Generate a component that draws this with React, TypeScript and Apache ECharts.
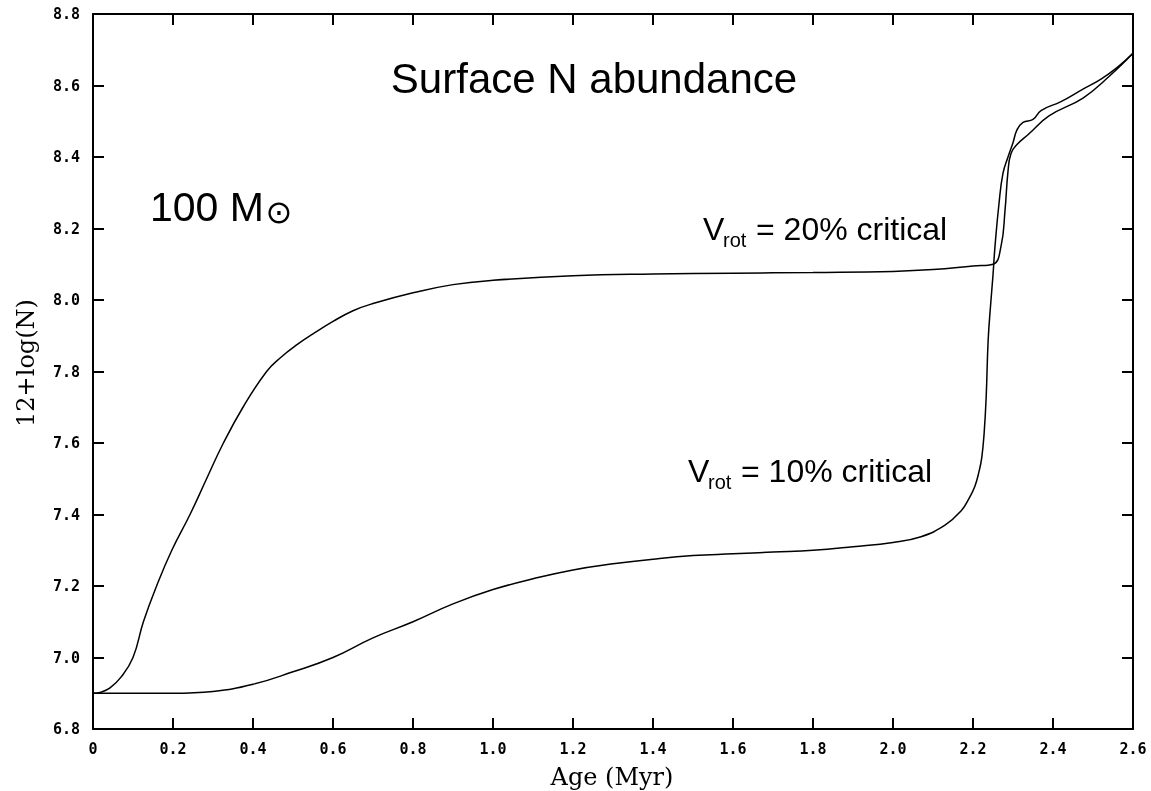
import React, { useEffect, useRef } from "react";
import * as echarts from "echarts";

// Age (Myr) and 12+log(N) for Vrot = 20% critical
const age20 = [0, 0.02, 0.0425, 0.07, 0.1, 0.126, 0.159, 0.197, 0.2425, 0.284, 0.326, 0.375, 0.434, 0.47, 0.51, 0.55, 0.6, 0.65, 0.7, 0.8, 0.9, 1.0, 1.2, 1.4, 1.6, 1.8, 2.0, 2.1, 2.2, 2.25, 2.27, 2.28, 2.2875, 2.295, 2.31, 2.34, 2.39, 2.475, 2.54, 2.6];
const n20 = [6.9, 6.903, 6.915, 6.945, 7.0, 7.1, 7.2, 7.3, 7.4, 7.5, 7.6, 7.7, 7.8, 7.84, 7.875, 7.905, 7.94, 7.97, 7.99, 8.02, 8.043, 8.055, 8.068, 8.073, 8.075, 8.077, 8.08, 8.085, 8.095, 8.1, 8.15, 8.25, 8.36, 8.41, 8.435, 8.465, 8.515, 8.565, 8.625, 8.69];

// Age (Myr) and 12+log(N) for Vrot = 10% critical
const age10 = [0, 0.1, 0.2, 0.3, 0.4, 0.5, 0.6, 0.7, 0.8, 0.9, 1.0, 1.1, 1.2, 1.3, 1.4, 1.5, 1.6, 1.7, 1.8, 1.9, 2.0, 2.07, 2.13, 2.17, 2.19, 2.205, 2.215, 2.222, 2.228, 2.233, 2.238, 2.245, 2.25, 2.255, 2.265, 2.275, 2.2875, 2.3, 2.31, 2.325, 2.35, 2.37, 2.42, 2.475, 2.52, 2.56, 2.6];
const n10 = [6.9, 6.9, 6.9, 6.905, 6.925, 6.96, 7.0, 7.055, 7.1, 7.15, 7.19, 7.22, 7.245, 7.262, 7.275, 7.285, 7.29, 7.295, 7.3, 7.31, 7.322, 7.338, 7.37, 7.41, 7.445, 7.48, 7.52, 7.56, 7.63, 7.73, 7.89, 8.0, 8.07, 8.15, 8.27, 8.355, 8.4, 8.44, 8.476, 8.497, 8.505, 8.53, 8.555, 8.59, 8.618, 8.65, 8.69];

const xMin = 0, xMax = 2.6, xStep = 0.2;
const yMin = 6.8, yMax = 8.8, yStep = 0.2;
const xTicks = [0, 0.2, 0.4, 0.6, 0.8, 1.0, 1.2, 1.4, 1.6, 1.8, 2.0, 2.2, 2.4, 2.6];
const yTicks = [6.8, 7.0, 7.2, 7.4, 7.6, 7.8, 8.0, 8.2, 8.4, 8.6, 8.8];

const xTitle = "Age (Myr)";
const yTitle = "12+log(N)";
const title = "Surface N abundance";
const massLabel = "100 M";
const sunSymbol = "\u2299";
const label20 = "= 20% critical";
const label10 = "= 10% critical";

const zip = (a: number[], b: number[]) => a.map((v, i) => [v, b[i]]);

const W = 1151, H = 791;
const GRID = { left: 93, right: 18, top: 14, bottom: 62 };
const TICK = 11;

export default function App() {
  const ref = useRef<HTMLDivElement>(null);
  useEffect(() => {
    if (!ref.current) return;
    const chart = echarts.init(ref.current, undefined, { renderer: "svg" });
    const labelStyle = { fontFamily: "DejaVu Sans Mono", fontSize: 15, fontWeight: "bold", color: "#000" };
    const sans = "Liberation Sans, Arial, sans-serif";
    const frameAxis = () => ({
      axisLine: { show: true, onZero: false, lineStyle: { color: "#000", width: 2 } },
      axisTick: { show: true, inside: true, length: TICK, lineStyle: { color: "#000", width: 2 } },
      splitLine: { show: false },
    });

    // tick length expressed in data units of each axis
    const dx = ((xMax - xMin) * TICK) / (W - GRID.left - GRID.right);
    const dy = ((yMax - yMin) * TICK) / (H - GRID.top - GRID.bottom);
    const tickSegments: any[] = [];
    xTicks.forEach((v) => {
      tickSegments.push([{ coord: [v, yMin] }, { coord: [v, yMin + dy] }]);
      tickSegments.push([{ coord: [v, yMax] }, { coord: [v, yMax - dy] }]);
    });
    yTicks.forEach((v) => {
      tickSegments.push([{ coord: [xMin, v] }, { coord: [xMin + dx, v] }]);
      tickSegments.push([{ coord: [xMax, v] }, { coord: [xMax - dx, v] }]);
    });

    chart.setOption({
      animation: false,
      grid: { ...GRID },
      xAxis: [
        {
          type: "value", min: xMin, max: xMax, interval: xStep, position: "bottom", ...frameAxis(),
          axisLabel: { ...labelStyle, margin: 12, formatter: (v: number) => (v === 0 ? "0" : v.toFixed(1)) },
        },
        { type: "value", min: xMin, max: xMax, interval: xStep, position: "top", ...frameAxis(), axisLabel: { show: false } },
      ],
      yAxis: [
        {
          type: "value", min: yMin, max: yMax, interval: yStep, position: "left", ...frameAxis(),
          axisLabel: { ...labelStyle, margin: 13, formatter: (v: number) => v.toFixed(1) },
        },
        { type: "value", min: yMin, max: yMax, interval: yStep, position: "right", ...frameAxis(), axisLabel: { show: false } },
      ],
      series: [
        {
          type: "line", data: zip(age20, n20),
          showSymbol: false, smooth: 0.45,
          lineStyle: { color: "#000", width: 1.5 },
          markLine: {
            silent: true, symbol: ["none", "none"], animation: false,
            label: { show: false },
            emphasis: { disabled: true },
            lineStyle: { color: "#000", width: 2, type: "solid" },
            data: tickSegments,
          },
        },
        {
          type: "line", data: zip(age10, n10),
          showSymbol: false, smooth: 0.45,
          lineStyle: { color: "#000", width: 1.5 },
        },
      ],
      graphic: [
        { type: "text", x: 594, y: 78, style: { text: title, font: `42px ${sans}`, fill: "#000", align: "center", verticalAlign: "middle" } },
        { type: "text", x: 150, y: 207, style: { text: massLabel, font: `41px ${sans}`, fill: "#000", align: "left", verticalAlign: "middle" } },
        { type: "text", x: 279, y: 212, style: { text: sunSymbol, font: "32px DejaVu Sans", fill: "#000", align: "center", verticalAlign: "middle" } },
        { type: "text", x: 703, y: 229, style: { text: "V", font: `32px ${sans}`, fill: "#000", align: "left", verticalAlign: "middle" } },
        { type: "text", x: 723, y: 240, style: { text: "rot", font: `20px ${sans}`, fill: "#000", align: "left", verticalAlign: "middle" } },
        { type: "text", x: 756, y: 229, style: { text: label20, font: `32px ${sans}`, fill: "#000", align: "left", verticalAlign: "middle" } },
        { type: "text", x: 688, y: 471, style: { text: "V", font: `32px ${sans}`, fill: "#000", align: "left", verticalAlign: "middle" } },
        { type: "text", x: 708, y: 482, style: { text: "rot", font: `20px ${sans}`, fill: "#000", align: "left", verticalAlign: "middle" } },
        { type: "text", x: 741, y: 471, style: { text: label10, font: `32px ${sans}`, fill: "#000", align: "left", verticalAlign: "middle" } },
        { type: "text", x: 612, y: 777, style: { text: xTitle, font: "24px DejaVu Serif", fill: "#000", align: "center", verticalAlign: "middle" } },
        { type: "text", x: 26, y: 363, rotation: Math.PI / 2, style: { text: yTitle, font: "24px DejaVu Serif", fill: "#000", align: "center", verticalAlign: "middle" } },
      ],
    });
    return () => chart.dispose();
  }, []);
  return <div ref={ref} style={{ position: "fixed", left: 0, top: 0, width: W, height: H }} />;
}
